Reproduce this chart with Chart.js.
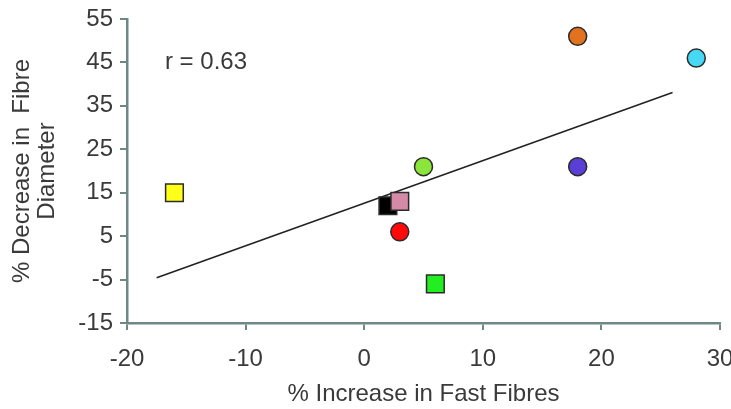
<!DOCTYPE html>
<html lang="en">
  <head>
    <meta charset="UTF-8">
    <title>Fast fibres vs fibre diameter</title>
    <style>
      html, body { margin: 0; padding: 0; background: #fff; }
      /* the last x label runs off the right edge, so the canvas is a bit wider than the frame */
      #wrap { width: 731px; height: 409px; overflow: hidden; }
    </style>
  </head>
  <body>
    <div id="wrap">
      <canvas id="scatter" width="750" height="409"></canvas>
    </div>
    <script src="https://cdn.jsdelivr.net/npm/chart.js@4/dist/chart.umd.min.js"></script>
    <script>
      // one marker per muscle
      var xValues = [-16, 2, 3, 3, 5, 6, 18, 18, 28];
      var yValues = [15, 12, 13, 6, 21, -6, 51, 21, 46];
      var pointColors = ['#ffff1a', '#000000', '#d48aa4', '#ff0a0a', '#8be53a', '#22ee22', '#e2721e', '#5a3fd6', '#46d8f5'];
      var pointShapes = ['rect', 'rect', 'rect', 'circle', 'circle', 'rect', 'circle', 'circle', 'circle'];

      // fitted line end points
      var trendX = [-17.5, 26];
      var trendY = [-4.6, 38.1];

      var xTicks = [-20, -10, 0, 10, 20, 30];
      var yTicks = [-15, -5, 5, 15, 25, 35, 45, 55];
      var rLabel = 'r = 0.63';

      var axisColor = '#6f8787';
      var textColor = '#3a3a3a';
      var fontFamily = '"Liberation Sans", Arial, sans-serif';
      var fontSize = 24;

      var points = xValues.map(function (x, i) { return { x: x, y: yValues[i] }; });
      var trend = trendX.map(function (x, i) { return { x: x, y: trendY[i] }; });

      // draws the correlation coefficient inside the plot
      var rText = {
        id: 'rText',
        afterDatasetsDraw: function (chart) {
          var ctx = chart.ctx;
          var xs = chart.scales.x, ys = chart.scales.y;
          ctx.save();
          ctx.font = fontSize + 'px ' + fontFamily;
          ctx.fillStyle = textColor;
          ctx.textAlign = 'left';
          ctx.textBaseline = 'middle';
          ctx.fillText(rLabel, xs.getPixelForValue(-16.8), ys.getPixelForValue(45));
          ctx.restore();
        }
      };

      new Chart(document.getElementById('scatter'), {
        type: 'scatter',
        data: {
          datasets: [{
            data: points,
            order: 1,
            pointStyle: pointShapes,
            backgroundColor: pointColors,
            borderColor: '#2b2b2b',
            borderWidth: 1.5,
            pointRadius: pointShapes.map(function (s) { return s === 'rect' ? 12.5 : 9; }),
            pointHoverRadius: pointShapes.map(function (s) { return s === 'rect' ? 12.5 : 9; })
          }, {
            type: 'line',
            data: trend,
            order: 2,
            showLine: true,
            borderColor: '#222',
            borderWidth: 1.6,
            pointRadius: 0,
            fill: false
          }]
        },
        options: {
          responsive: false,
          devicePixelRatio: 1,
          animation: false,
          layout: { padding: { top: 19, right: 30, left: 0, bottom: 0 } },
          plugins: {
            legend: { display: false },
            tooltip: { enabled: false }
          },
          scales: {
            x: {
              type: 'linear',
              min: -20,
              max: 30,
              afterBuildTicks: function (axis) { axis.ticks = xTicks.map(function (v) { return { value: v }; }); },
              afterFit: function (axis) { axis.paddingLeft = 0; axis.paddingRight = 0; axis.height = 86; },
              grid: { drawOnChartArea: false, color: axisColor, lineWidth: 2, tickLength: 7 },
              border: { color: axisColor, width: 2.5 },
              ticks: { color: textColor, padding: 15, maxRotation: 0, font: { family: fontFamily, size: fontSize } },
              title: {
                display: true,
                text: '% Increase in Fast Fibres',
                color: textColor,
                padding: { top: 0, bottom: 1 },
                font: { family: fontFamily, size: fontSize, lineHeight: 1.1 }
              }
            },
            y: {
              type: 'linear',
              min: -15,
              max: 55,
              afterBuildTicks: function (axis) { axis.ticks = yTicks.map(function (v) { return { value: v }; }); },
              afterFit: function (axis) { axis.paddingTop = 0; axis.paddingBottom = 0; axis.width = 127; },
              grid: { drawOnChartArea: false, color: axisColor, lineWidth: 2, tickLength: 7 },
              border: { color: axisColor, width: 2.5 },
              ticks: { color: textColor, padding: 7, font: { family: fontFamily, size: fontSize } },
              title: {
                display: true,
                text: ['% Decrease in  Fibre', 'Diameter'],
                color: textColor,
                padding: { top: 10, bottom: 0 },
                font: { family: fontFamily, size: fontSize, lineHeight: 1.04 }
              }
            }
          }
        },
        plugins: [rText]
      });
    </script>
  </body>
</html>
